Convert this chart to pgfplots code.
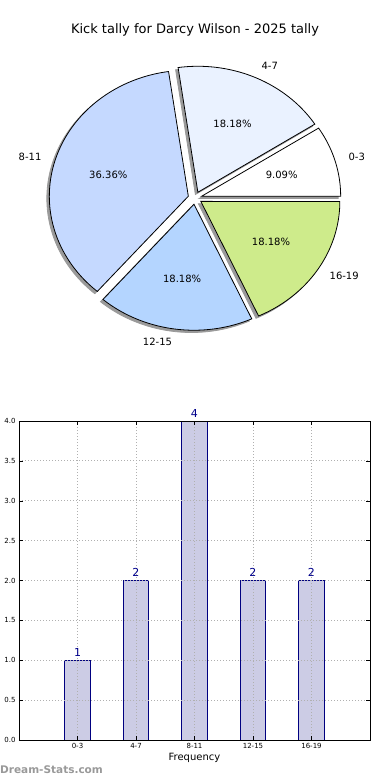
\documentclass[border=0pt]{standalone}
\usepackage{pgfplots}
\pgfplotsset{compat=1.18}
\usepackage{fontspec}
\setmainfont{DejaVu Sans}
\definecolor{pA}{HTML}{FFFFFF}
\definecolor{pB}{HTML}{EAF2FF}
\definecolor{pC}{HTML}{C5D9FF}
\definecolor{pD}{HTML}{B4D5FF}
\definecolor{pE}{HTML}{CEEB8B}
\definecolor{shadowgray}{HTML}{9A9A9A}
\definecolor{barfill}{HTML}{CCCCE5}
\definecolor{baredge}{HTML}{000080}
\definecolor{valblue}{HTML}{00008B}
\definecolor{wm}{HTML}{999999}
\definecolor{gridgray}{HTML}{B0B0B0}
% counts per category: 0-3, 4-7, 8-11, 12-15, 16-19
\def\cA{1}\def\cB{2}\def\cC{4}\def\cD{2}\def\cE{2}
\newcommand\pieshadow[2]{%
  \pgfmathsetmacro\ox{0.05*cos((#1+#2)/2)-0.018}%
  \pgfmathsetmacro\oy{0.05*sin((#1+#2)/2)-0.018}%
  \edef\tmp{\noexpand\addplot[fill=shadowgray, draw=shadowgray, line width=0.8pt, domain=#1:#2, samples=90] ({\ox+cos(x)},{\oy+sin(x)}) -- (axis cs:\ox,\oy) -- cycle;}%
  \tmp}
\newcommand\pieslice[6]{% start, end, colour, label, anchor, percent
  \pgfmathsetmacro\ox{0.05*cos((#1+#2)/2)}%
  \pgfmathsetmacro\oy{0.05*sin((#1+#2)/2)}%
  \pgfmathsetmacro\lx{\ox+1.1*cos((#1+#2)/2)}%
  \pgfmathsetmacro\ly{\oy+1.1*sin((#1+#2)/2)}%
  \pgfmathsetmacro\qx{\ox+0.6*cos((#1+#2)/2)}%
  \pgfmathsetmacro\qy{\oy+0.6*sin((#1+#2)/2)}%
  \edef\tmp{\noexpand\addplot[fill=#3, draw=black, line width=0.8pt, domain=#1:#2, samples=90] ({\ox+cos(x)},{\oy+sin(x)}) -- (axis cs:\ox,\oy) -- cycle;
   \noexpand\node[anchor=#5, inner sep=0pt, font=\noexpand\fontsize{10}{12}\noexpand\selectfont] at (axis cs:\lx,\ly) {#4};
   \noexpand\node[anchor=center, inner sep=0pt, font=\noexpand\fontsize{10}{12}\noexpand\selectfont] at (axis cs:\qx,\qy) {#6};}%
  \tmp}
\begin{document}
\begin{tikzpicture}
\useasboundingbox (0,0) rectangle (390pt,780pt);
\pgfmathsetmacro\tot{\cA+\cB+\cC+\cD+\cE}
\pgfmathsetmacro\aA{0}
\pgfmathsetmacro\aB{\aA+360*\cA/\tot}
\pgfmathsetmacro\aC{\aB+360*\cB/\tot}
\pgfmathsetmacro\aD{\aC+360*\cC/\tot}
\pgfmathsetmacro\aE{\aD+360*\cD/\tot}
\pgfmathsetmacro\aF{\aE+360*\cE/\tot}
\node[font=\fontsize{13}{15}\selectfont] at (195pt,750pt) {Kick tally for Darcy Wilson - 2025 tally};
\begin{axis}[at={(195pt,582pt)}, anchor=center, x=139pt, y=126pt,
  xmin=-1.3, xmax=1.3, ymin=-1.3, ymax=1.3, hide axis, clip=false]
\pieshadow{\aA}{\aB}
\pieshadow{\aB}{\aC}
\pieshadow{\aC}{\aD}
\pieshadow{\aD}{\aE}
\pieshadow{\aE}{\aF}
\pieslice{\aA}{\aB}{pA}{0-3}{west}{9.09\%}
\pieslice{\aB}{\aC}{pB}{4-7}{west}{18.18\%}
\pieslice{\aC}{\aD}{pC}{8-11}{east}{36.36\%}
\pieslice{\aD}{\aE}{pD}{12-15}{east}{18.18\%}
\pieslice{\aE}{\aF}{pE}{16-19}{west}{18.18\%}
\end{axis}
\begin{axis}[at={(19pt,40pt)}, anchor=south west, width=351pt, height=319pt, scale only axis,
  xmin=-1, xmax=5, ymin=0, ymax=4,
  xtick={0,1,2,3,4}, xticklabels={0-3,4-7,8-11,12-15,16-19},
  ytick={0,0.5,...,4},
  /pgf/number format/assume math mode=true,
  yticklabel style={/pgf/number format/fixed, /pgf/number format/precision=1, /pgf/number format/fixed zerofill},
  tick label style={font=\fontsize{7}{8}\selectfont},
  grid=major, grid style={dash pattern=on 1pt off 2pt, gridgray, line width=0.9pt},
  axis on top, tick align=inside, major tick length=4pt,
  tick style={black, line width=0.5pt},
  axis line style={line width=0.9pt},
  xlabel={Frequency}, xlabel style={font=\fontsize{10}{12}\selectfont, yshift=2pt},
  clip=false]
\addplot[ybar, bar width=0.44, fill=barfill, draw=baredge, line width=0.8pt,
  nodes near coords, nodes near coords style={font=\fontsize{11}{13}\selectfont, text=valblue, inner sep=3.5pt}]
  coordinates {(0,1) (1,2) (2,4) (3,2) (4,2)};
\end{axis}
\node[anchor=west, inner sep=0pt, text=wm, font=\bfseries\fontsize{10.5}{12}\selectfont] at (0pt,10pt) {Dream-Stats.com};
\end{tikzpicture}
\end{document}
